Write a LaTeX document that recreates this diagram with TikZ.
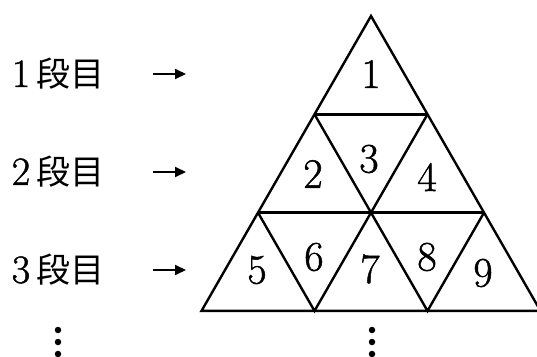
\documentclass[tikz,border=0pt]{standalone}
\usepackage{fontspec}
\newfontfamily\cjk{Noto Sans CJK JP}
\newfontfamily\numfont[FakeBold=1.2]{Latin Modern Roman}
\usetikzlibrary{arrows.meta}
\begin{document}
\begin{tikzpicture}[x=1pt,y=-1pt,
  edge/.style={line width=2.4pt,line join=miter},
  num/.style={inner sep=0pt,font=\numfont\fontsize{42}{42}\selectfont},
  rowlabel/.style={inner sep=0pt,anchor=center},
  pointer/.style={line width=2pt,-{Triangle[length=11pt,width=10pt]}},
  dot/.style={circle,fill=black,inner sep=0pt,minimum size=6.5pt}]
\useasboundingbox (0,0) rectangle (537,356);
\clip (0,0) rectangle (537,356);
% vertices
\coordinate (A)  at (371,16);
\coordinate (B1) at (314.5,114.3);
\coordinate (B2) at (427.5,114.3);
\coordinate (C1) at (258,212.6);
\coordinate (C2) at (371,212.6);
\coordinate (C3) at (484,212.6);
\coordinate (D1) at (201.5,310.9);
\coordinate (D2) at (314.5,310.9);
\coordinate (D3) at (427.5,310.9);
\coordinate (D4) at (540.5,310.9);
% outer triangle and rows
\draw[edge] (A) -- (D1) -- (D4) -- cycle;
\draw[edge] (B1) -- (B2);
\draw[edge] (C1) -- (C3);
\draw[edge] (B1) -- (C2) -- (B2);
\draw[edge] (C1) -- (D2) -- (C2) -- (D3) -- (C3);
% numbers
\node[num] (n1) at (371,74) {1};
\node[num] (n2) at (313,174) {2};
\node[num] (n3) at (369,159) {3};
\node[num] (n4) at (427,177) {4};
\node[num] (n5) at (257,270) {5};
\node[num] (n6) at (314,257) {6};
\node[num] (n7) at (370,269) {7};
\node[num] (n8) at (427,257) {8};
\node[num] (n9) at (483,273) {9};
% row labels
\node[rowlabel] (r1) at (58,74) {\numfont\fontsize{40}{40}\selectfont 1\hspace{6pt}{\cjk\fontsize{34}{34}\selectfont 段目}};
\node[rowlabel] (r2) at (58,172) {\numfont\fontsize{40}{40}\selectfont 2\hspace{6pt}{\cjk\fontsize{34}{34}\selectfont 段目}};
\node[rowlabel] (r3) at (58,270) {\numfont\fontsize{40}{40}\selectfont 3\hspace{6pt}{\cjk\fontsize{34}{34}\selectfont 段目}};
% arrows
\coordinate (a1s) at (153,74);  \coordinate (a1e) at (186,74);
\coordinate (a2s) at (153,172); \coordinate (a2e) at (186,172);
\coordinate (a3s) at (153,270); \coordinate (a3e) at (186,270);
\draw[pointer] (a1s) -- (a1e);
\draw[pointer] (a2s) -- (a2e);
\draw[pointer] (a3s) -- (a3e);
% continuation dots
\node[dot] (ld1) at (58,330) {};
\node[dot] (ld2) at (58,342) {};
\node[dot] (ld3) at (58,354) {};
\node[dot] (md1) at (372,330) {};
\node[dot] (md2) at (372,342) {};
\node[dot] (md3) at (372,354) {};
\end{tikzpicture}
\end{document}
